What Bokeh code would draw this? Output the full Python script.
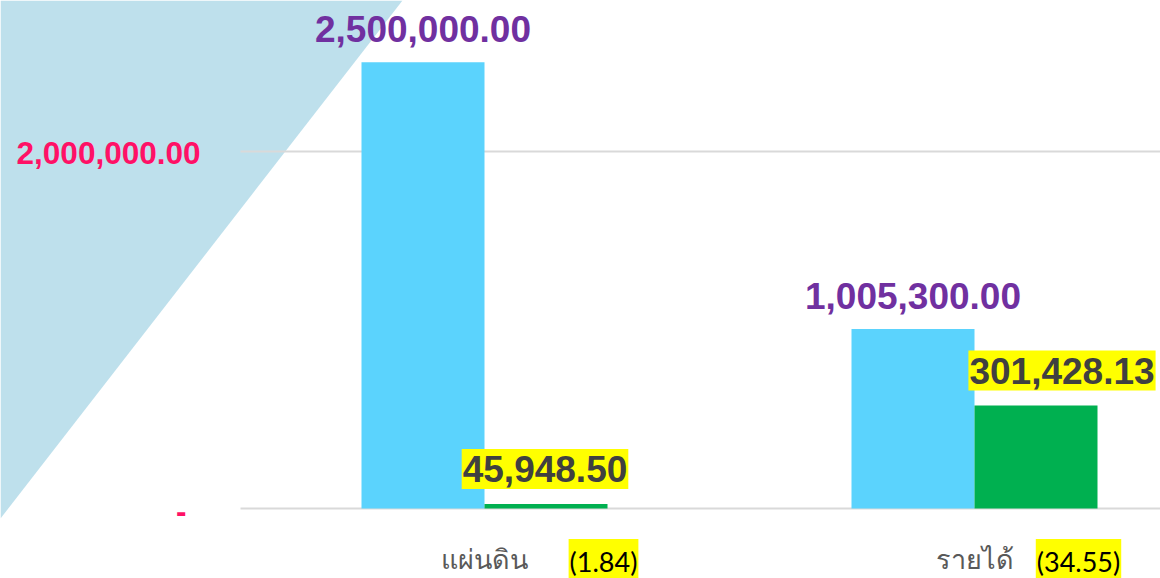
from bokeh.plotting import figure
from bokeh.models import Range1d, ColumnDataSource
from bokeh.core.properties import value
from bokeh.embed import file_html
from bokeh.resources import INLINE

# ---- data ----
categories = ["แผ่นดิน", "รายได้"]
category_notes = ["(1.84)", "(34.55)"]
budget_values = [2500000.00, 1005300.00]
budget_labels = ["2,500,000.00", "1,005,300.00"]
actual_bar_values = [25000.0, 577000.0]
actual_labels = ["45,948.50", "301,428.13"]
y_ticks = [0, 2000000]
y_tick_labels = ["-", "2,000,000.00"]

# ---- layout constants (pixels) ----
W, H = 1160, 578
PX0, PX_PER_X = 484, 490
BASE_PX, GRID_PX = 508, 151
Y_PER_PX = 2000000 / (BASE_PX - GRID_PX)
x_start = -PX0 / PX_PER_X
x_end = (W - PX0) / PX_PER_X
y_end = BASE_PX * Y_PER_PX
y_start = -(H - BASE_PX) * Y_PER_PX


def dx(px):
    return (px - PX0) / PX_PER_X


def dy(py):
    return (BASE_PX - py) * Y_PER_PX


BW = 123 / PX_PER_X
xs = list(range(len(categories)))

p = figure(width=W, height=H, output_backend="svg", toolbar_location=None,
           x_range=Range1d(x_start, x_end), y_range=Range1d(y_start, y_end),
           x_axis_location=None, y_axis_location=None, min_border=0,
           outline_line_color=None, background_fill_color="white",
           border_fill_color="white")
p.grid.visible = False

# decorative triangle
p.patch(x=[dx(0), dx(402), dx(0)], y=[dy(0), dy(0), dy(518)],
        fill_color="#BEE0EC", line_color=None)

# grid lines
p.segment(x0=dx(240), x1=x_end, y0=y_ticks, y1=y_ticks,
          line_color="#D9D9D9", line_width=2)

# bars
src = ColumnDataSource(dict(
    xb=[x - BW / 2 for x in xs], xa=[x + BW / 2 for x in xs],
    budget=budget_values, actual=actual_bar_values,
    blab=budget_labels, alab=actual_labels,
    cat=categories, note=category_notes, x=xs,
    aoff=[-1, 26], noff=[119, 104],
))
p.vbar(x="xb", top="budget", bottom=0, width=BW, source=src,
       fill_color="#5BD3FD", line_color=None)
p.vbar(x="xa", top="actual", bottom=0, width=BW, source=src,
       fill_color="#00B050", line_color=None)

# value labels
p.text(x="xb", y="budget", text="blab", source=src,
       text_font=value("Liberation Sans"), text_font_style="bold",
       text_font_size="37px", text_color="#7030A0",
       text_align="center", text_baseline="middle", y_offset=-33)
p.text(x="xa", y="actual", text="alab", source=src,
       text_font=value("Liberation Sans"), text_font_style="bold",
       text_font_size="37px", text_color="#404040",
       text_align="center", text_baseline="middle",
       x_offset="aoff", y_offset=-35,
       background_fill_color="#FFFF00",
       padding=dict(left=1, right=1, top=7, bottom=7))

# y tick labels
tsrc = ColumnDataSource(dict(y=y_ticks, t=y_tick_labels,
                             xo=[-14, 0], yo=[2, 1]))
p.text(x=dx(200), y="y", text="t", source=tsrc,
       text_font=value("Liberation Sans"), text_font_style="bold",
       text_font_size="31.5px", text_color="#FF1166",
       text_align="right", text_baseline="middle",
       x_offset="xo", y_offset="yo")

# category labels
p.text(x="x", y=0, text="cat", source=src,
       text_font=value("Noto Sans"), text_font_size="27px",
       text_color="#595959", text_align="center", text_baseline="middle",
       y_offset=50)
p.text(x="x", y=0, text="note", source=src,
       text_font=value("Lato"), text_font_size="27px",
       text_color="#000000", text_align="center", text_baseline="middle",
       x_offset="noff", y_offset=53,
       background_fill_color="#FFFF00",
       padding=dict(left=1, right=1, top=6, bottom=6))

open("out.html", "w").write(file_html(p, INLINE))
